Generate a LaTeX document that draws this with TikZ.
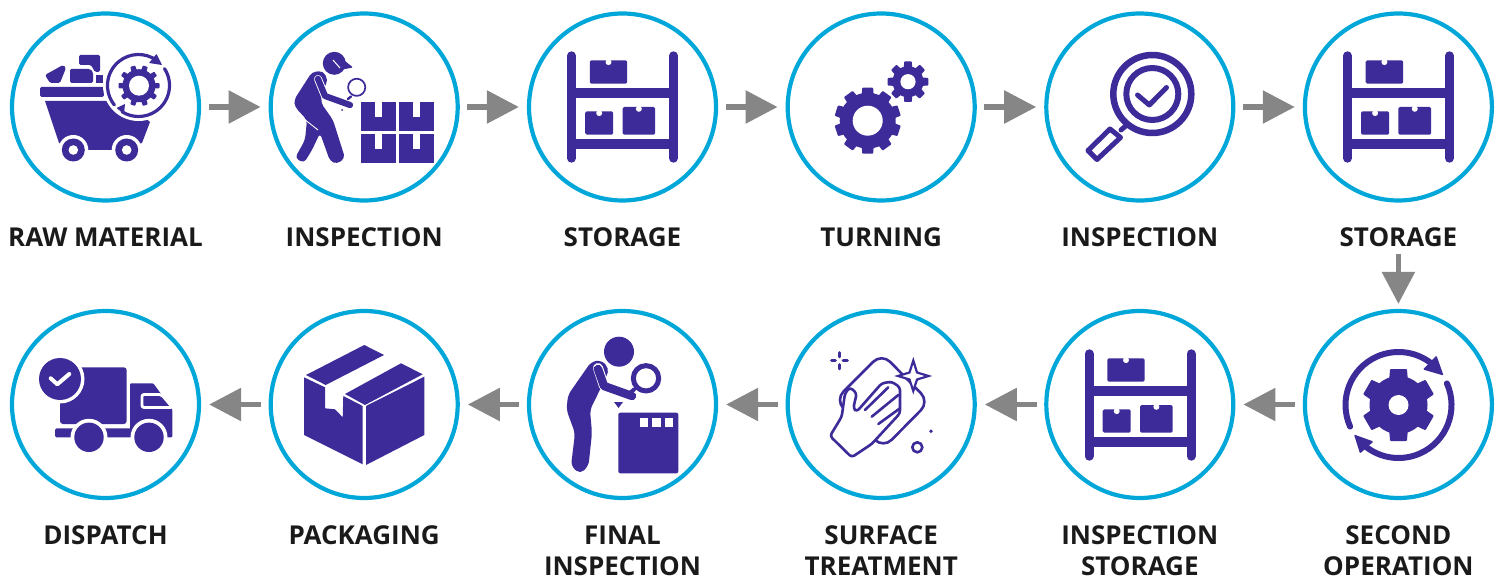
\documentclass[tikz,border=0pt]{standalone}
\usepackage{fontspec}
\setmainfont{Open Sans}
\usetikzlibrary{arrows.meta}
\definecolor{iconblue}{HTML}{3C2B98}
\definecolor{ringcyan}{HTML}{00A7D8}
\definecolor{flowgray}{HTML}{868686}
\definecolor{labelink}{HTML}{1A1A1A}
\tikzset{
  station/.style={circle,draw=ringcyan,line width=4.2pt,minimum size=187pt,inner sep=0pt,fill=white},
  flow/.style={draw=flowgray,line width=5.5pt,-{Triangle[length=32pt,width=32pt]},shorten <=7.5pt,shorten >=8pt},
  caption/.style={anchor=base,text=labelink,inner sep=0pt,align=center,font=\fontsize{26}{31}\selectfont\bfseries},
  ic/.style={fill=iconblue,draw=none},
  icl/.style={draw=iconblue,fill=none,line cap=round,line join=round},
  wht/.style={fill=white,draw=none},
}
% gear: cx cy outer body hole teeth width rotation
\newcommand{\gearglyph}[8]{%
  \foreach \gearang in {1,...,#6}{%
    \fill[ic,rounded corners=0.8pt,shift={(#1,#2)},rotate={#8+360/#6*\gearang}]
      (0,{-#7*.58}) -- (#3,{-#7*.42}) -- (#3,{#7*.42}) -- (0,{#7*.58}) -- cycle;
  }
  \fill[ic] (#1,#2) circle[radius=#4pt];
  \fill[wht] (#1,#2) circle[radius=#5pt];
}
% clockwise arc in picture coordinates: cx cy r lw from to
\newcommand{\cyclearc}[6]{\draw[icl,line width=#4pt] (#1,#2) ++(#5:#3pt) arc[start angle=#5,end angle=#6,radius=#3pt];}
% carton with notch: left right top bottom
\newcommand{\notchbox}[4]{%
  \fill[ic,rounded corners=1.5pt] (#1,#3) rectangle (#2,#4);
  \fill[wht] ({(#1+#2)/2},{#3+1.8}) circle[radius=3pt];
}
% rack: cx cy
\newcommand{\rackglyph}[2]{%
  \begin{scope}[shift={(#1,#2)}]
    \draw[icl,line width=9pt] (-51,-51.2) -- (-51,51.2);
    \draw[icl,line width=9pt] (51,-51.2) -- (51,51.2);
    \fill[ic] (-51,-19) rectangle (51,-9);
    \fill[ic] (-51,31.7) rectangle (51,41.7);
    \notchbox{-32.7}{4.7}{-46.7}{-23.3}
    \notchbox{-37.3}{-9.3}{4.3}{27.7}
    \notchbox{0}{32.7}{0}{27.7}
  \end{scope}
}
\begin{document}
\begin{tikzpicture}[x=1pt,y=1pt,yscale=-1]
\useasboundingbox (0,0) rectangle (1501,577);
% stations
\node[station] (c1) at (105.5,107) {};
\node[station] (c2) at (364.2,107) {};
\node[station] (c3) at (622.5,107) {};
\node[station] (c4) at (881.2,107) {};
\node[station] (c5) at (1139.8,107) {};
\node[station] (c6) at (1398.4,107) {};
\node[station] (c7) at (1398.4,404.5) {};
\node[station] (c8) at (1139.8,404.5) {};
\node[station] (c9) at (881.2,404.5) {};
\node[station] (c10) at (622.5,404.5) {};
\node[station] (c11) at (364.2,404.5) {};
\node[station] (c12) at (105.5,404.5) {};
% captions
\node[caption] (l1) at (105.5,246.7) {RAW MATERIAL};
\node[caption] (l2) at (364.2,246.7) {INSPECTION};
\node[caption] (l3) at (622.5,246.7) {STORAGE};
\node[caption] (l4) at (881.2,246.7) {TURNING};
\node[caption] (l5) at (1139.8,246.7) {INSPECTION};
\node[caption] (l6) at (1398.4,246.7) {STORAGE};
\node[caption] (l7) at (1398.4,575) {SECOND\\OPERATION};
\node[caption] (l8) at (1139.8,575) {INSPECTION\\STORAGE};
\node[caption] (l9) at (881.2,575) {SURFACE\\TREATMENT};
\node[caption] (l10) at (622.5,575) {FINAL\\INSPECTION};
\node[caption] (l11) at (364.2,544) {PACKAGING};
\node[caption] (l12) at (105.5,544) {DISPATCH};
% connectors
\draw[flow] (c1) -- (c2);
\draw[flow] (c2) -- (c3);
\draw[flow] (c3) -- (c4);
\draw[flow] (c4) -- (c5);
\draw[flow] (c5) -- (c6);
\draw[flow,shorten <=6.5pt,shorten >=5pt] (l6) -- (c7);
\draw[flow] (c7) -- (c8);
\draw[flow] (c8) -- (c9);
\draw[flow] (c9) -- (c10);
\draw[flow] (c10) -- (c11);
\draw[flow] (c11) -- (c12);

% ---- raw material
\fill[ic,rounded corners=1.5pt] (45,75) -- (63,65) -- (66,68) -- (60,83) -- (50,83) -- cycle;
\fill[ic,rounded corners=1.5pt] (70,69) -- (90,69) -- (93,72) -- (93,83) -- (70,83) -- cycle;
\fill[ic,rounded corners=1.5pt] (79,55) -- (100,55) -- (100,72) -- (95,72) -- (91,65) -- (79,65) -- cycle;
\fill[ic] (96,75) rectangle (103,83);
\fill[ic,rounded corners=1.5pt] (40,87) rectangle (104,97);
\fill[ic] (45,101) -- (125,101) -- (150,122) -- (142,143) -- (115,150) -- (85,150) -- (59,143) -- cycle;
\fill[wht] (138.5,85.5) circle[radius=35.5pt];
\fill[wht] (73.3,150) circle[radius=15pt];
\fill[wht] (126.7,150) circle[radius=15pt];
\fill[ic] (73.3,150) circle[radius=11.5pt];
\fill[ic] (126.7,150) circle[radius=11.5pt];
\fill[wht] (73.3,150) circle[radius=4.8pt];
\fill[wht] (126.7,150) circle[radius=4.8pt];
\gearglyph{139}{85.7}{20.5}{16.5}{10}{10}{6}{0}
\cyclearc{138.5}{85.5}{31}{3.2}{141}{305}
\cyclearc{138.5}{85.5}{31}{3.2}{-33}{122}
\fill[ic,rounded corners=0.5pt] (156.5,54) -- (162,65) -- (149,63) -- cycle;
\fill[ic,rounded corners=0.5pt] (116.5,108) -- (125,104) -- (124,114) -- cycle;

% ---- inspector with cartons
\fill[ic] (334.3,63.3) circle[radius=11.5pt];
\fill[ic,rounded corners=1pt] (334,52) -- (353,67.5) -- (340,70) -- cycle;
\draw[white,line width=1pt] (333,60) -- (340,68);
\fill[ic,rounded corners=4pt] (312,72) -- (323,71) -- (328,80) -- (322,92) -- (321,103) -- (333,120) -- (345,158) -- (337,164) -- (330,161) -- (320,133) -- (312,150) -- (304,163) -- (295,158) -- (305,140) -- (307,120) -- (295,107) -- (294,100) -- cycle;
\draw[white,line width=8pt,line cap=round,line join=round] (318,79) -- (325,96) -- (345,104);
\draw[icl,line width=6.2pt] (318,79) -- (325,96) -- (350,105);
\draw[white,line width=0.9pt] (304,119) -- (318,130);
\draw[icl,line width=1.7pt] (356.7,87.3) circle[radius=8.6pt];
\draw[icl,line width=2.4pt] (351,96.5) -- (348,99);
\fill[ic] (342,110) circle[radius=1pt];
\foreach \bl/\bt in {361/102.3,398.7/102.3,361/134.3,398.7/134.3}{
  \fill[ic] (\bl,\bt) rectangle ({\bl+35},{\bt+29});
  \fill[wht] ({\bl+14},\bt) rectangle ({\bl+21},{\bt+14.5});
}

% ---- storage racks
\rackglyph{622.5}{107}
\rackglyph{1398.4}{107}
\rackglyph{1140}{405}

% ---- turning gears
\gearglyph{867.7}{120.7}{33}{28}{15}{10}{13}{18}
\gearglyph{908}{81.7}{20.3}{15.5}{7.6}{8}{9}{0}

% ---- inspection lens
\draw[icl,line width=6.5pt] (1152.3,94) circle[radius=39pt];
\draw[icl,line width=6pt] (1152.3,94) circle[radius=26pt];
\draw[icl,line width=5pt] (1137.5,95) -- (1149.3,105) -- (1166.5,87.5);
\draw[icl,line width=5pt] (1121,130) -- (1128,124);
\draw[icl,line width=5pt] (1110,129) -- (1120.5,137.5) -- (1097,159.5) -- (1088,150.5) -- cycle;

% ---- second operation
\gearglyph{1398.5}{405}{36}{29}{10}{6}{20}{30}
\cyclearc{1398.5}{405}{53}{6}{156}{312}
\cyclearc{1398.5}{405}{53}{6}{-24}{130}
\fill[ic,rounded corners=1pt] (1436.5,355.5) -- (1443.5,375.5) -- (1423,369.5) -- cycle;
\fill[ic,rounded corners=1pt] (1354,434.5) -- (1373.5,441.5) -- (1360,453.5) -- cycle;

% ---- surface treatment
\draw[icl,line width=2.6pt,rounded corners=12pt] (881.7,353.3) -- (929.3,401.7) -- (883.3,448.3) -- (835,400) -- cycle;
\draw[icl,fill=white,line width=2.6pt,rounded corners=3pt] (830,436) -- (841.7,416.7) -- (845,393.3) -- (850,387.3) -- (856.7,393.3) -- (853.3,408.3) -- (856.7,411.7) -- (881.7,383.3) -- (891.7,381.7) -- (900,387.3) -- (900,413.3) -- (871.7,444) -- (851.7,457.3) -- cycle;
\draw[icl,line width=2.6pt] (865,410) -- (888.3,387.3);
\draw[icl,line width=2.6pt] (871.7,416.7) -- (898.3,395);
\draw[icl,line width=2.6pt] (878.3,424) -- (900,408.3);
\draw[icl,fill=white,line width=2.2pt,line join=miter] (913.3,360.5) -- (917,372.5) -- (928.5,376) -- (917,379.5) -- (913.3,391) -- (909.5,379.5) -- (898,376) -- (909.5,372.5) -- cycle;
\draw[icl,line width=2.6pt] (839.3,352.5) -- (839.3,357);
\draw[icl,line width=2.6pt] (839.3,364.5) -- (839.3,369);
\draw[icl,line width=2.6pt] (831.5,360.7) -- (835.5,360.7);
\draw[icl,line width=2.6pt] (843,360.7) -- (847.5,360.7);
\draw[icl,line width=2.6pt] (917.3,447.3) circle[radius=5pt];
\fill[ic] (931,431.3) circle[radius=1.9pt];

% ---- final inspection
\fill[ic] (619,351.7) circle[radius=15pt];
\fill[ic,rounded corners=5pt] (591,362) -- (601,360) -- (609,368) -- (606.7,376) -- (590,410) -- (592,433) -- (588.5,466) -- (580,474) -- (571,466) -- (575,433) -- (566.5,410) -- (568,395) -- cycle;
\draw[white,line width=10pt,line cap=round,line join=round] (598,368) -- (604,386) -- (625,395);
\draw[icl,line width=8.4pt] (598,369) -- (604,386) -- (632,396);
\draw[icl,line width=5pt] (646,378.3) circle[radius=12.7pt];
\draw[icl,line width=4pt] (634,389.5) -- (630,393);
\fill[ic] (614,402) -- (623,402) -- (618.5,408) -- cycle;
\fill[ic,rounded corners=2pt] (618.3,412.7) rectangle (678.3,473.3);
\fill[wht] (640,417.7) rectangle (648.3,426.7);
\fill[wht] (652.3,417.7) rectangle (660.7,426.7);
\fill[wht] (665,417.7) rectangle (673.3,426.7);

% ---- packaging
\fill[ic] (306,375) -- (364.3,345) -- (384,355) -- (325.7,385) -- cycle;
\fill[ic] (345,394) -- (401,363.3) -- (422.7,374.3) -- (365,405) -- cycle;
\fill[ic] (304,377.3) -- (325,387.3) -- (325,408.3) -- (335,409.3) -- (342.7,417.3) -- (343.3,396) -- (362.7,406) -- (362.7,464.3) -- (304,435) -- cycle;
\fill[ic] (366,406) -- (424.3,376.7) -- (424.3,435) -- (366,465) -- cycle;

% ---- dispatch truck
\fill[ic,rounded corners=3pt] (60,367.3) -- (126.7,367.3) -- (126.7,424) -- (60,424) -- cycle;
\fill[ic,rounded corners=1pt] (130,383.3) -- (153.3,383.3) -- (172.3,409.5) -- (172.3,437.3) -- (130,437.3) -- cycle;
\fill[ic,rounded corners=1.5pt] (55,428.3) rectangle (132,437.3);
\draw[white,fill=iconblue,line width=2.8pt,rounded corners=2pt] (142,394.5) -- (161.5,394.5) -- (172.5,407.5) -- (142,407.5) -- cycle;
\fill[wht] (60,379) circle[radius=24.5pt];
\fill[ic] (60,379) circle[radius=21pt];
\draw[white,line width=4pt,line cap=round,line join=round] (50.7,378.3) -- (57.3,384.3) -- (69.3,374);
\fill[wht] (89,437.3) circle[radius=18.5pt];
\fill[wht] (149,437.3) circle[radius=18.5pt];
\fill[ic] (89,437.3) circle[radius=14.7pt];
\fill[ic] (149,437.3) circle[radius=14.7pt];
\end{tikzpicture}
\end{document}
